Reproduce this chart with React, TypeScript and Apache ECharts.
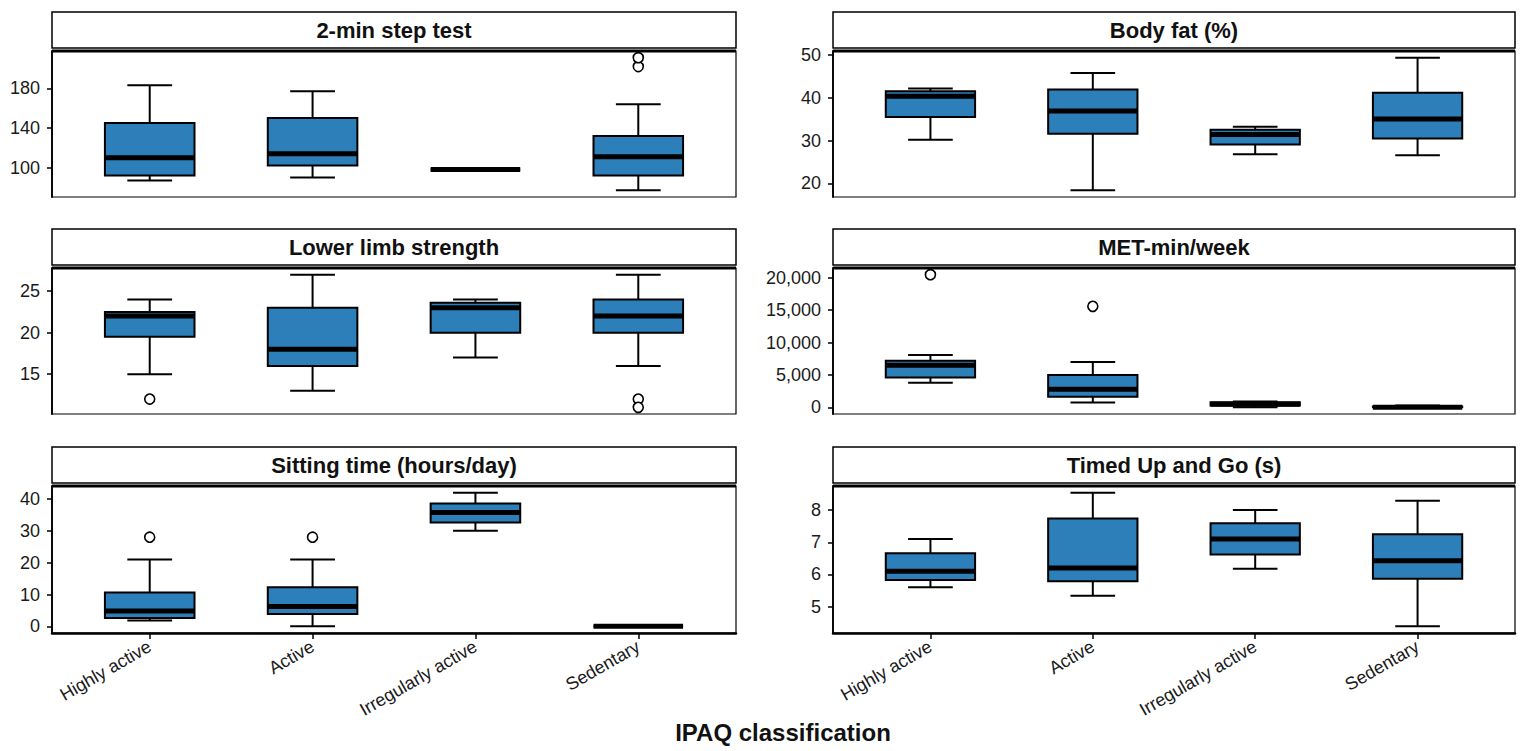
import * as echarts from 'echarts';
import React, { useEffect, useRef } from 'react';

const categories = ['Highly active', 'Active', 'Irregularly active', 'Sedentary'];

const panelTitles = [
  '2-min step test',
  'Body fat (%)',
  'Lower limb strength',
  'MET-min/week',
  'Sitting time (hours/day)',
  'Timed Up and Go (s)',
];

// each box: [min, Q1, median, Q3, max], one per category
const stepTestBoxes = [
  [87, 92, 110, 145, 183],
  [90, 102, 114, 150, 177],
  [98, 98, 98, 98, 98],
  [77, 92, 111, 132, 164],
];
const stepTestOutliers = [
  [4, 202],
  [4, 211],
];

const bodyFatBoxes = [
  [30.2, 35.5, 40.3, 41.5, 42.1],
  [18.4, 31.6, 36.9, 41.9, 45.7],
  [26.8, 29.1, 31.4, 32.5, 33.2],
  [26.6, 30.5, 35.0, 41.1, 49.3],
];
const bodyFatOutliers: number[][] = [];

const lowerLimbBoxes = [
  [15, 19.5, 22, 22.5, 24],
  [13, 16, 18, 23, 27],
  [17, 20, 23, 23.6, 24],
  [16, 20, 22, 24, 27],
];
const lowerLimbOutliers = [
  [1, 12],
  [4, 12],
  [4, 11],
];

const metBoxes = [
  [3800, 4600, 6500, 7200, 8100],
  [750, 1650, 2800, 5000, 7000],
  [0, 300, 500, 800, 900],
  [0, 0, 0, 150, 300],
];
const metOutliers = [
  [1, 20500],
  [2, 15600],
];

const sittingBoxes = [
  [1.8, 2.6, 4.8, 10.6, 21],
  [0, 3.9, 6.2, 12.3, 21],
  [30, 32.6, 35.8, 38.6, 42],
  [0, 0, 0, 0, 0],
];
const sittingOutliers = [
  [1, 28],
  [2, 28],
];

const tugBoxes = [
  [5.6, 5.83, 6.1, 6.66, 7.1],
  [5.34, 5.79, 6.2, 7.74, 8.54],
  [6.18, 6.62, 7.1, 7.59, 8.0],
  [4.39, 5.87, 6.43, 7.25, 8.29],
];
const tugOutliers: number[][] = [];

const yTicks = [
  [100, 140, 180],
  [20, 30, 40, 50],
  [15, 20, 25],
  [0, 5000, 10000, 15000, 20000],
  [0, 10, 20, 30, 40],
  [5, 6, 7, 8],
];

const panelBoxes = [stepTestBoxes, bodyFatBoxes, lowerLimbBoxes, metBoxes, sittingBoxes, tugBoxes];
const panelOutliers = [stepTestOutliers, bodyFatOutliers, lowerLimbOutliers, metOutliers, sittingOutliers, tugOutliers];

const BOX_COLOR = '#2c7fb8';
const BOX_WIDTH = 0.55;
const FONT = '"Liberation Sans", Arial, Helvetica, sans-serif';

// panel frame positions (px)
const colLeft = [52, 833];
const colRight = [736, 1515];
const rowTop = [51, 268, 486];
const rowBottom = [197, 414, 633];

// ggplot style 5% expansion around the data
const extentOf = (boxes: number[][], outliers: number[][]) => {
  const vals = [...boxes.flat(), ...outliers.map((o) => o[1])];
  const lo = Math.min(...vals);
  const hi = Math.max(...vals);
  const pad = (hi - lo) * 0.05;
  return [lo - pad, hi + pad];
};

const renderBox = (params: any, api: any) => {
  const x = api.value(0);
  const lo = api.coord([x, api.value(1)]);
  const q1 = api.coord([x, api.value(2)]);
  const med = api.coord([x, api.value(3)]);
  const q3 = api.coord([x, api.value(4)]);
  const hi = api.coord([x, api.value(5)]);
  const unit = api.size([1, 0])[0];
  const half = (unit * BOX_WIDTH) / 2;
  const cap = half / 2;
  const cx = lo[0];
  const seg = (x1: number, y1: number, x2: number, y2: number, w: number) => ({
    type: 'line',
    shape: { x1, y1, x2, y2 },
    style: { stroke: '#000', lineWidth: w },
  });
  return {
    type: 'group',
    children: [
      seg(cx, hi[1], cx, q3[1], 2),
      seg(cx, q1[1], cx, lo[1], 2),
      seg(cx - cap, hi[1], cx + cap, hi[1], 2),
      seg(cx - cap, lo[1], cx + cap, lo[1], 2),
      {
        type: 'rect',
        shape: { x: cx - half, y: q3[1], width: half * 2, height: q1[1] - q3[1] },
        style: { fill: BOX_COLOR, stroke: '#000', lineWidth: 2 },
      },
      seg(cx - half, med[1], cx + half, med[1], 5),
    ],
  };
};

const App: React.FC = () => {
  const chartRef = useRef<HTMLDivElement>(null);

  useEffect(() => {
    if (!chartRef.current) return;
    document.body.style.margin = '0';
    document.body.style.background = '#fff';

    const chart = echarts.init(chartRef.current, null, { renderer: 'svg' });

    const grids: any[] = [];
    const xAxes: any[] = [];
    const yAxes: any[] = [];
    const series: any[] = [];
    const graphics: any[] = [];

    panelTitles.forEach((title, i) => {
      const col = i % 2;
      const row = Math.floor(i / 2);
      const left = colLeft[col];
      const right = colRight[col];
      const top = rowTop[row];
      const bottom = rowBottom[row];
      const isBottomRow = row === 2;
      const [yMin, yMax] = extentOf(panelBoxes[i], panelOutliers[i]);

      grids.push({
        left,
        top,
        width: right - left,
        height: bottom - top,
        containLabel: false,
      });

      xAxes.push({
        gridIndex: i,
        type: 'value',
        min: 0.4,
        max: 4.6,
        show: isBottomRow,
        axisLine: { show: true, onZero: false, lineStyle: { color: '#000', width: 2.5 } },
        axisTick: { show: true, length: 6, customValues: [1, 2, 3, 4], lineStyle: { color: '#000', width: 1.5 } },
        axisLabel: {
          customValues: [1, 2, 3, 4],
          formatter: (v: number) => categories[Math.round(v) - 1] ?? '',
          rotate: 30,
          margin: 12,
          fontSize: 18,
          color: '#1a1a1a',
          fontFamily: FONT,
        },
        splitLine: { show: false },
      });

      yAxes.push({
        gridIndex: i,
        type: 'value',
        min: yMin,
        max: yMax,
        axisLine: { show: true, lineStyle: { color: '#000', width: 1.8 } },
        axisTick: { show: true, length: 5, customValues: yTicks[i], lineStyle: { color: '#000', width: 1.5 } },
        axisLabel: {
          customValues: yTicks[i],
          formatter: (v: number) => v.toLocaleString('en-US'),
          margin: 12,
          fontSize: 18,
          color: '#1a1a1a',
          fontFamily: FONT,
        },
        splitLine: { show: false },
      });

      series.push({
        type: 'custom',
        xAxisIndex: i,
        yAxisIndex: i,
        renderItem: renderBox,
        encode: { x: 0, y: [1, 2, 3, 4, 5] },
        data: panelBoxes[i].map((b, k) => [k + 1, ...b]),
        silent: true,
      });

      series.push({
        type: 'scatter',
        xAxisIndex: i,
        yAxisIndex: i,
        symbol: 'circle',
        symbolSize: 10,
        itemStyle: { color: '#fff', borderColor: '#000', borderWidth: 1.6, opacity: 1 },
        data: panelOutliers[i],
        silent: true,
        z: 5,
      });

      // facet strip
      graphics.push({
        type: 'rect',
        shape: { x: left, y: top - 39, width: right - left, height: 36 },
        style: { fill: '#fff', stroke: '#000', lineWidth: 1.5 },
        z: 10,
      });
      graphics.push({
        type: 'text',
        x: (left + right) / 2,
        y: top - 21,
        style: {
          text: title,
          font: `bold 22px ${FONT}`,
          fill: '#111',
          textAlign: 'center',
          textVerticalAlign: 'middle',
        },
        z: 11,
      });
      // panel frame
      graphics.push({
        type: 'rect',
        shape: { x: left, y: top, width: right - left, height: bottom - top },
        style: { fill: 'none', stroke: '#000', lineWidth: 1.2 },
        z: 10,
      });
      graphics.push({
        type: 'line',
        shape: { x1: left, y1: top, x2: right, y2: top },
        style: { stroke: '#000', lineWidth: 3 },
        z: 10,
      });
    });

    graphics.push({
      type: 'text',
      x: 783,
      y: 732,
      style: {
        text: 'IPAQ classification',
        font: `bold 24px ${FONT}`,
        fill: '#111',
        textAlign: 'center',
        textVerticalAlign: 'middle',
      },
    });

    const option: any = {
      animation: false,
      backgroundColor: '#fff',
      grid: grids,
      xAxis: xAxes,
      yAxis: yAxes,
      series,
      graphic: graphics,
    };

    chart.setOption(option);

    return () => {
      chart.dispose();
    };
  }, []);

  return <div ref={chartRef} style={{ width: 1527, height: 751 }} />;
};

export default App;
